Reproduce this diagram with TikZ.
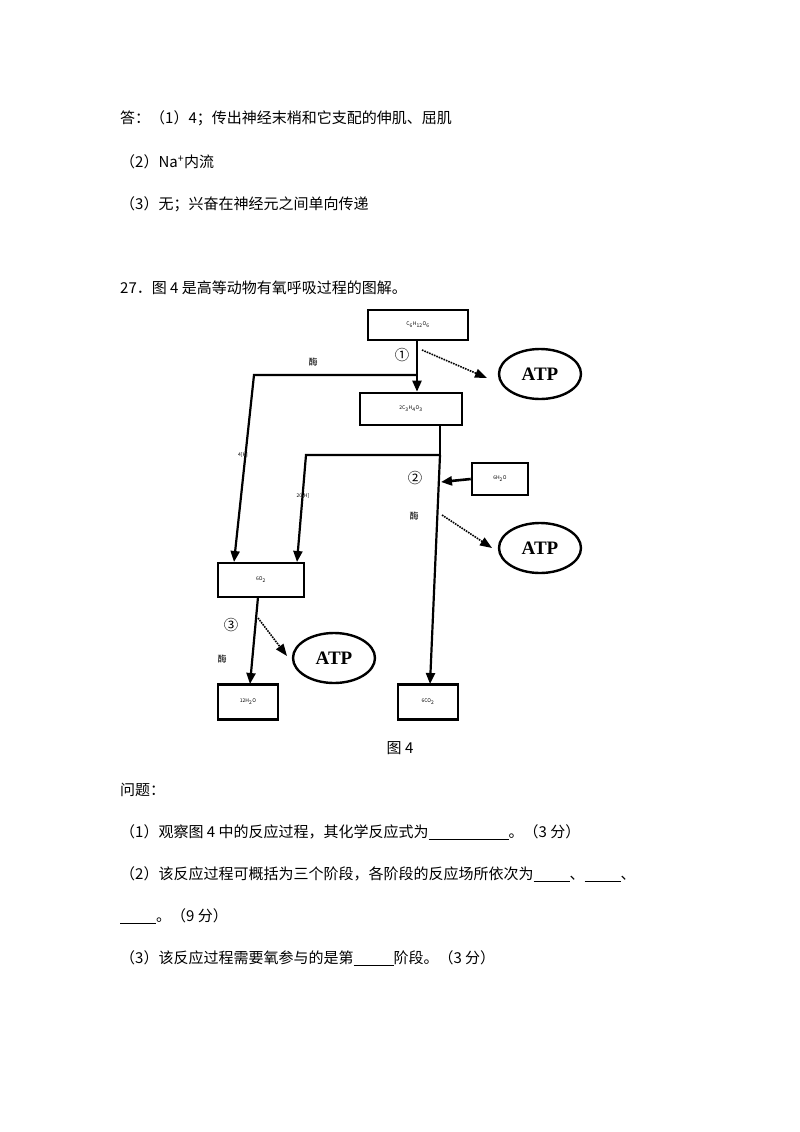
\documentclass[tikz,border=0pt]{standalone}
\usepackage{fontspec}
\setmainfont{Noto Sans CJK SC}
\newfontfamily\serifatp{Liberation Serif}
\usetikzlibrary{arrows.meta,shapes.geometric}
\begin{document}
\begin{tikzpicture}[x=1pt,y=-1pt,
  txt/.style={anchor=west,inner sep=0pt,font=\fontsize{15}{18}\selectfont},
  bx/.style={draw,line width=2.6pt,inner sep=0pt,font=\tiny},
  atp/.style={draw,ellipse,line width=2.4pt,minimum width=82pt,minimum height=50pt,font=\serifatp\bfseries\fontsize{19}{20}\selectfont},
  ar/.style={line width=2.2pt,-{Triangle[length=11pt,width=9pt]}},
  dt/.style={line width=1.6pt,densely dotted,-{Triangle[length=12pt,width=9pt]}},
  lb/.style={font=\small,inner sep=1pt}]
\useasboundingbox (0,0) rectangle (800,1132);
\fill[white] (0,0) rectangle (800,1132);
\node[txt] (t1) at (120,118) {答：（1）4；传出神经末梢和它支配的伸肌、屈肌};
\node[txt] (t2) at (120,162) {（2）Na\textsuperscript{+}内流};
\node[txt] (t3) at (120,204) {（3）无；兴奋在神经元之间单向传递};
\node[txt] (t4) at (120,288) {27．图 4 是高等动物有氧呼吸过程的图解。};
\node[txt,anchor=center] (cap) at (400,748) {图 4};
\node[txt] (q0) at (120,790) {问题：};
\node[txt] (q1) at (120,832) {（1）观察图 4 中的反应过程，其化学反应式为\underline{\hspace{80pt}}。（3 分）};
\node[txt] (q2) at (120,874) {（2）该反应过程可概括为三个阶段，各阶段的反应场所依次为\underline{\hspace{36pt}}、\underline{\hspace{36pt}}、};
\node[txt] (q2b) at (120,916) {\underline{\hspace{36pt}}。（9 分）};
\node[txt] (q3) at (120,958) {（3）该反应过程需要氧参与的是第\underline{\hspace{40pt}}阶段。（3 分）};

\node[bx,minimum width=100pt,minimum height=30pt] (glu) at (418,325) {C\textsubscript{6}H\textsubscript{12}O\textsubscript{6}};
\node[bx,minimum width=102pt,minimum height=32pt] (pyr) at (411,409) {2C\textsubscript{3}H\textsubscript{4}O\textsubscript{3}};
\node[bx,minimum width=56pt,minimum height=32pt] (wat) at (500,479) {6H\textsubscript{2}O};
\node[bx,minimum width=86pt,minimum height=34pt] (oxy) at (261,580) {6O\textsubscript{2}};
\node[bx,minimum width=60pt,minimum height=35pt] (h2o) at (248,702) {12H\textsubscript{2}O};
\node[bx,minimum width=60pt,minimum height=35pt] (co2) at (428,702) {6CO\textsubscript{2}};
\node[atp] (a1) at (540,374) {ATP};
\node[atp] (a2) at (540,548) {ATP};
\node[atp] (a3) at (334,658) {ATP};

\coordinate (j1) at (417,375);
\coordinate (j1l) at (254,375);
\coordinate (j2) at (440,455);
\coordinate (j2l) at (306,455);
\coordinate (jw) at (441,482);

\draw[ar] (glu.south -| j1) -- (pyr.north -| j1);
\draw[ar] (j1) -- (j1l) -- (234,562);
\draw[line width=2.2pt] (pyr.south -| j2) -- (j2);
\draw[ar] (j2) -- (j2l) -- (297,562);
\draw[ar] (j2) -- (430,684);
\draw[ar,line width=2.6pt] (wat.west) -- (jw);
\draw[ar] (258,597) -- (250,684);
\draw[dt] (422,350) -- (487,378);
\draw[dt] (442,515) -- (492,548);
\draw[dt] (258,618) -- (287,656);

\node[lb] (l1) at (402,355) {\Large ①};
\node[lb] (l2) at (415,478) {\Large ②};
\node[lb] (l3) at (231,625) {\Large ③};
\node[lb] (e1) at (313,362) {酶};
\node[lb] (e2) at (414,516) {酶};
\node[lb] (e3) at (222,659) {酶};
\node[lb,font=\tiny] (h1) at (243,455) {4[H]};
\node[lb,font=\tiny] (h2) at (303,496) {20[H]};
\end{tikzpicture}
\end{document}
